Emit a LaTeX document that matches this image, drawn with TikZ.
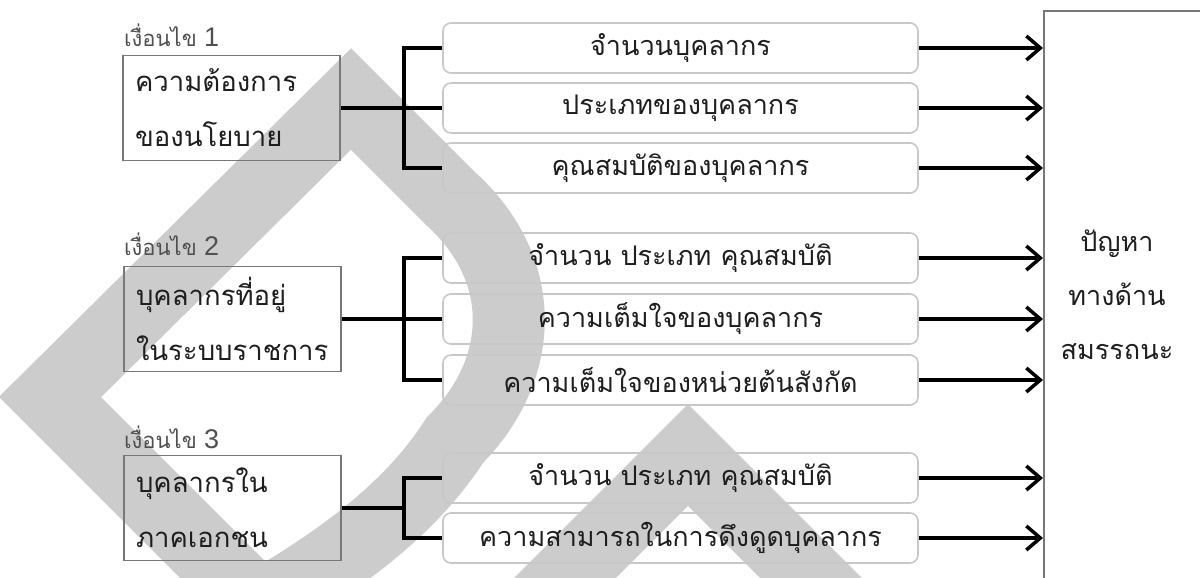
\documentclass[tikz,border=0pt]{standalone}
\usepackage{fontspec}
\newfontfamily\thai[Script=Thai]{Loma}
\newfontfamily\arial{Liberation Sans}
\usetikzlibrary{arrows.meta}
\definecolor{wm}{RGB}{204,204,204}
\definecolor{txt}{RGB}{30,30,30}
\definecolor{labc}{RGB}{80,80,80}
\definecolor{lb}{RGB}{120,120,120}
\definecolor{mb}{RGB}{200,200,200}
\begin{document}
\begin{tikzpicture}[x=1pt,y=-1pt,
  wmark/.style={draw=wm, line width=72, line join=miter, miter limit=10},
  lbox/.style={draw=lb, line width=1.6, minimum width=217, minimum height=105, inner xsep=12, text width=193, align=left, font=\thai\fontsize{27.5}{55}\selectfont, text=txt},
  mbox/.style={draw=mb, line width=1.6, rounded corners=8, minimum width=475, minimum height=50, font=\thai\fontsize{27}{30}\selectfont, text=txt},
  lab/.style={font=\thai\fontsize{22}{24}\selectfont, text=labc, anchor=base west, inner sep=0},
  conn/.style={line width=3.5, black, line join=miter},
  arr/.style={line width=3.5, black, -{Straight Barb[length=14pt,width=24pt]}},
]
\clip (0,0) rectangle (1200,578);
\fill[white] (0,0) rectangle (1200,578);
% watermark
\draw[wmark] (50,397) -- (351,99) -- (450,198) .. controls (530,270) and (525,370) .. (455,440) .. controls (410,510) and (340,560) .. (260,607) -- cycle;
\draw[wmark] (538,605) -- (688,455) -- (838,605);
% condition labels
\node[lab] (l1) at (124,47) {เงื่อนไข {\arial\fontsize{27}{28}\selectfont 1}};
\node[lab] (l2) at (124,255) {เงื่อนไข {\arial\fontsize{27}{28}\selectfont 2}};
\node[lab] (l3) at (124,448) {เงื่อนไข {\arial\fontsize{27}{28}\selectfont 3}};
% left boxes
\node[lbox] (c1) at (231.5,108) {ความต้องการ\\ของนโยบาย};
\node[lbox] (c2) at (232.5,319) {บุคลากรที่อยู่\\ในระบบราชการ};
\node[lbox] (c3) at (232.5,508) {บุคลากรใน\\ภาคเอกชน};
% middle boxes
\node[mbox] (m11) at (680.5,48) {จำนวนบุคลากร};
\node[mbox] (m12) at (680.5,108) {ประเภทของบุคลากร};
\node[mbox] (m13) at (680.5,168) {คุณสมบัติของบุคลากร};
\node[mbox] (m21) at (680.5,258) {จำนวน ประเภท คุณสมบัติ};
\node[mbox] (m22) at (680.5,319) {ความเต็มใจของบุคลากร};
\node[mbox] (m23) at (680.5,380) {ความเต็มใจของหน่วยต้นสังกัด};
\node[mbox] (m31) at (680.5,478) {จำนวน ประเภท คุณสมบัติ};
\node[mbox] (m32) at (680.5,538) {ความสามารถในการดึงดูดบุคลากร};
% big box
\node[draw=lb, line width=1.6, anchor=north west, minimum width=300, minimum height=640, inner sep=0] (big) at (1043,10) {};
\node[font=\thai\fontsize{27}{54}\selectfont, text=txt, align=center] (prob) at (1117,295) {ปัญหา\\ทางด้าน\\สมรรถนะ};
% brackets
\coordinate (b1) at (404,108);
\coordinate (b2) at (404,319);
\coordinate (b3) at (404,508);
\draw[conn] (c1.east) -- (b1);
\draw[conn] (m11.west) -- (m11.west -| b1) |- (m13.west);
\draw[conn] (b1) -- (m12.west);
\draw[conn] (c2.east) -- (b2);
\draw[conn] (m21.west) -- (m21.west -| b2) |- (m23.west);
\draw[conn] (b2) -- (m22.west);
\draw[conn] (c3.east) -- (b3);
\draw[conn] (m31.west) -- (m31.west -| b3) |- (m32.west);
% arrows
\foreach \m in {m11,m12,m13,m21,m22,m23,m31,m32}
  \draw[arr] (\m.east) -- (\m.east -| big.west);
\end{tikzpicture}
\end{document}
